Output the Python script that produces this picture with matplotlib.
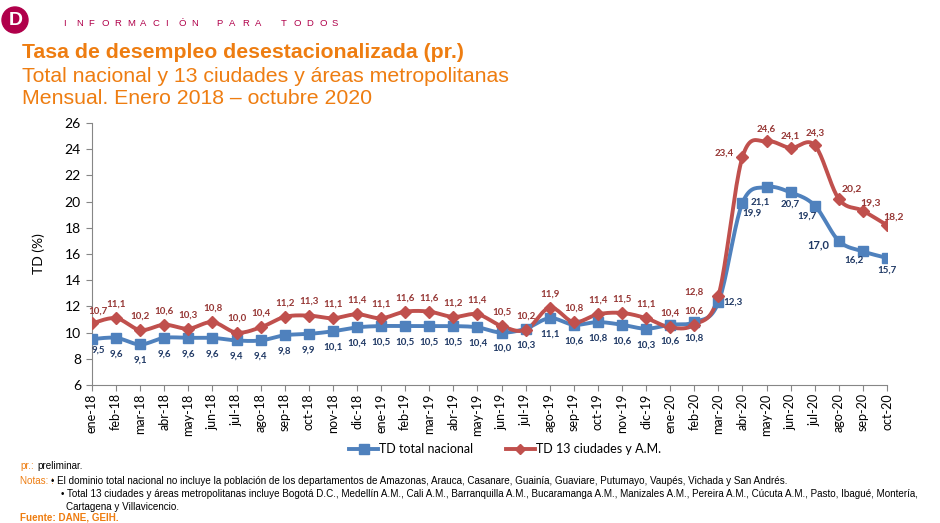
import numpy as np
import matplotlib
matplotlib.use("Agg")
import matplotlib.pyplot as plt
from matplotlib.lines import Line2D
from matplotlib.patches import Circle

# ---------------- data ----------------
months = ["ene-18", "feb-18", "mar-18", "abr-18", "may-18", "jun-18", "jul-18", "ago-18",
          "sep-18", "oct-18", "nov-18", "dic-18", "ene-19", "feb-19", "mar-19", "abr-19",
          "may-19", "jun-19", "jul-19", "ago-19", "sep-19", "oct-19", "nov-19", "dic-19",
          "ene-20", "feb-20", "mar-20", "abr-20", "may-20", "jun-20", "jul-20", "ago-20",
          "sep-20", "oct-20"]
td_nacional = [9.5, 9.6, 9.1, 9.6, 9.6, 9.6, 9.4, 9.4, 9.8, 9.9, 10.1, 10.4,
               10.5, 10.5, 10.5, 10.5, 10.4, 10.0, 10.3, 11.1, 10.6, 10.8, 10.6, 10.3,
               10.6, 10.8, 12.3, 19.9, 21.1, 20.7, 19.7, 17.0, 16.2, 15.7]
td_13 = [10.7, 11.1, 10.2, 10.6, 10.3, 10.8, 10.0, 10.4, 11.2, 11.3, 11.1, 11.4,
         11.1, 11.6, 11.6, 11.2, 11.4, 10.5, 10.2, 11.9, 10.8, 11.4, 11.5, 11.1,
         10.4, 10.6, 12.8, 23.4, 24.6, 24.1, 24.3, 20.2, 19.3, 18.2]
y_ticks = [6, 8, 10, 12, 14, 16, 18, 20, 22, 24, 26]

# ---------------- style ----------------
ORANGE = "#EE7D11"
MAGENTA = "#B0004A"
BLUE = "#4F81BD"
RED = "#C0504D"
BLUE_TXT = "#1F3864"
RED_TXT = "#963634"
AXIS = "#868686"
CHART_FONT = ["Lato", "DejaVu Sans"]
TITLE_FONT = ["Liberation Sans", "DejaVu Sans"]
NOTE_FONT = ["Liberation Sans Narrow", "Liberation Sans", "DejaVu Sans"]


def smooth(xs, ys, n=20):
    """Bezier smoothing (Excel-like smoothed line) through the data points."""
    xs = np.asarray(xs, float)
    ys = np.asarray(ys, float)
    px = np.concatenate([[xs[0]], xs, [xs[-1]]])
    py = np.concatenate([[ys[0]], ys, [ys[-1]]])
    ox, oy = [], []
    t = np.linspace(0, 1, n, endpoint=False)
    for i in range(1, len(px) - 2):
        for arr, out in ((px, ox), (py, oy)):
            p0, p1, p2, p3 = arr[i - 1], arr[i], arr[i + 1], arr[i + 2]
            c1 = p1 + (p2 - p0) / 6.0
            c2 = p2 - (p3 - p1) / 6.0
            out.extend((1 - t) ** 3 * p1 + 3 * (1 - t) ** 2 * t * c1
                       + 3 * (1 - t) * t ** 2 * c2 + t ** 3 * p2)
    ox.append(xs[-1]); oy.append(ys[-1])
    return np.array(ox), np.array(oy)


fig = plt.figure(figsize=(9.4, 5.23), dpi=100)
ax = fig.add_axes([92 / 940, 138 / 523, 795 / 940, 262 / 523])

x = np.arange(len(months))
for vals, col, mk, ms in ((td_nacional, BLUE, "s", 7.5), (td_13, RED, "D", 6.0)):
    sx, sy = smooth(x, vals)
    ax.plot(sx, sy, color=col, lw=2.8, zorder=3, solid_capstyle="round")
    ax.plot(x, vals, ls="none", marker=mk, ms=ms, color=col, zorder=4)

ax.set_xlim(0, len(months) - 1)
ax.set_ylim(y_ticks[0], y_ticks[-1])
ax.set_yticks(y_ticks)
ax.set_xticks(x)
ax.set_xticklabels(months, rotation=90, fontsize=9, family=CHART_FONT)
for lab in ax.get_yticklabels():
    lab.set_fontsize(10)
    lab.set_family(CHART_FONT)
ax.tick_params(axis="both", colors=AXIS, labelcolor="black", length=4, width=0.8)
ax.tick_params(axis="y", pad=4)
ax.tick_params(axis="x", pad=2)
for s in ("top", "right"):
    ax.spines[s].set_visible(False)
for s in ("left", "bottom"):
    ax.spines[s].set_color(AXIS)
    ax.spines[s].set_linewidth(0.8)
ax.set_ylabel("TD (%)", fontsize=10, family=CHART_FONT, labelpad=14)

# ---------------- data labels ----------------
PX = 0.72  # points per pixel at 100 dpi
blue_off = {0: (6, 11), 26: (15, 0), 27: (9, 10), 28: (-6, 15), 29: (0, 12), 30: (-8, 11),
            31: (-20, 4), 32: (-9, 9), 33: (0, 12)}
red_off = {0: (6, -12), 26: (-24, -4), 27: (-18, -4), 28: (0, -12), 29: (0, -12),
           30: (0, -12), 31: (13, -10), 32: (8, -8), 33: (7, -8)}


def fmt(v):
    return f"{v:.1f}".replace(".", ",")


for i, v in enumerate(td_nacional):
    dx, dy = blue_off.get(i, (0, 16))
    ax.annotate(fmt(v), (i, v), xytext=(dx * PX, -dy * PX), textcoords="offset points",
                ha="center", va="center", fontsize=8 if i == 31 else 7, fontweight="bold",
                color=BLUE_TXT, family=CHART_FONT, zorder=5, annotation_clip=False)
for i, v in enumerate(td_13):
    dx, dy = red_off.get(i, (0, -14))
    ax.annotate(fmt(v), (i, v), xytext=(dx * PX, -dy * PX), textcoords="offset points",
                ha="center", va="center", fontsize=7.5 if i in (31, 32, 33) else 7,
                fontweight="bold", color=RED_TXT, family=CHART_FONT, zorder=5,
                annotation_clip=False)

# ---------------- legend ----------------
handles = [Line2D([], [], color=BLUE, lw=2.8, marker="s", ms=6.5),
           Line2D([], [], color=RED, lw=2.8, marker="D", ms=5)]
fig.legend(handles, ["TD total nacional", "TD 13 ciudades y A.M."], loc="center",
           bbox_to_anchor=(505 / 940, 1 - 449 / 523), ncol=2, frameon=False,
           prop={"family": CHART_FONT, "size": 9}, handlelength=2.3, handletextpad=0.1,
           columnspacing=2.6)

# ---------------- header ----------------
logo_ax = fig.add_axes([0, 1 - 36 / 523, 30 / 940, 32 / 523])
logo_ax.set_xlim(0, 30); logo_ax.set_ylim(0, 32); logo_ax.set_aspect("equal")
logo_ax.axis("off")
logo_ax.add_patch(Circle((15, 16), 13, color=MAGENTA))
logo_ax.text(15.5, 15.5, "D", color="white", fontsize=14, fontweight="bold",
             ha="center", va="center", family=TITLE_FONT)

header = "INFORMACIÓN PARA TODOS"
hx = 63.0
for ch in header:
    if ch == " ":
        hx += 12.8
        continue
    fig.text(hx / 940, 1 - 24 / 523, ch, fontsize=6.8, color=MAGENTA,
             family=TITLE_FONT, va="center", ha="left")
    hx += 12.8

fig.text(22 / 940, 1 - 52 / 523, "Tasa de desempleo desestacionalizada (pr.)", fontsize=15.3,
         fontweight="bold", color=ORANGE, family=TITLE_FONT, va="center")
fig.text(22 / 940, 1 - 76 / 523, "Total nacional y 13 ciudades y áreas metropolitanas",
         fontsize=15.3, color=ORANGE, family=TITLE_FONT, va="center")
fig.text(22 / 940, 1 - 99 / 523, "Mensual. Enero 2018 – octubre 2020", fontsize=15.3,
         color=ORANGE, family=TITLE_FONT, va="center")

# ---------------- notes ----------------
nfs = 7.1
fig.text(20 / 940, 1 - 466 / 523, "pr.:", fontsize=nfs, color=ORANGE, family=NOTE_FONT, va="center")
fig.text(37 / 940, 1 - 466 / 523, "preliminar.", fontsize=nfs, color="black", family=NOTE_FONT, va="center")
fig.text(20 / 940, 1 - 481 / 523, "Notas: :", fontsize=nfs, color=ORANGE, family=NOTE_FONT,
         va="center")
fig.text(51 / 940, 1 - 481 / 523,
         "• El dominio total nacional no incluye la población de los departamentos de Amazonas, "
         "Arauca, Casanare, Guainía, Guaviare, Putumayo, Vaupés, Vichada y San Andrés.",
         fontsize=nfs, color="black", family=NOTE_FONT, va="center")
fig.text(61 / 940, 1 - 494 / 523,
         "• Total 13 ciudades y áreas metropolitanas incluye Bogotá D.C., Medellín A.M., Cali A.M., "
         "Barranquilla A.M., Bucaramanga A.M., Manizales A.M., Pereira A.M., Cúcuta A.M., Pasto, "
         "Ibagué, Montería,", fontsize=nfs, color="black", family=NOTE_FONT, va="center")
fig.text(66 / 940, 1 - 507 / 523, "Cartagena y Villavicencio.", fontsize=nfs, color="black",
         family=NOTE_FONT, va="center")
fig.text(20 / 940, 1 - 518 / 523, "Fuente: DANE, GEIH.", fontsize=nfs, color=ORANGE,
         family=NOTE_FONT, fontweight="bold", va="center")

fig.savefig("out.png", dpi=100)
